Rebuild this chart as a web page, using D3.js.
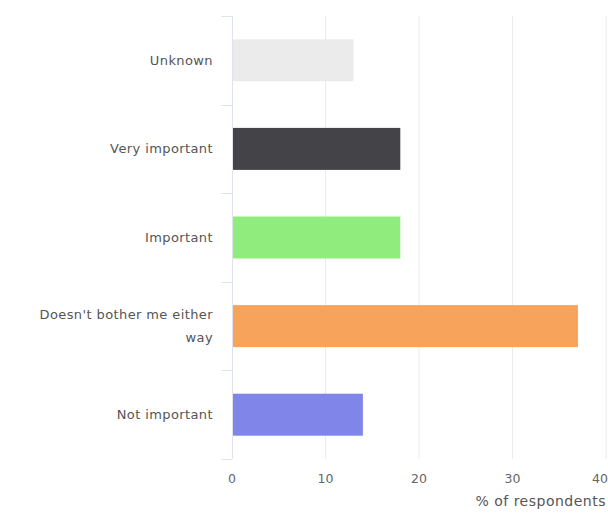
<!DOCTYPE html>
<html><head><meta charset="utf-8">
<script src="https://cdn.jsdelivr.net/npm/d3@7"></script>
<style>body{margin:0;background:#fff}svg{display:block}</style>
</head><body>
<script>
const categories = ["Unknown", "Very important", "Important", "Doesn't bother me either way", "Not important"];
const labelLines = [["Unknown"], ["Very important"], ["Important"], ["Doesn't bother me either", "way"], ["Not important"]];
const values = [13, 18, 18, 37, 14];
const colors = ["#ebebeb", "#434348", "#90ed7d", "#f7a35c", "#8085e9"];
const xTicks = [0, 10, 20, 30, 40];
const xTitle = "% of respondents";

const W = 608, H = 513;
const svg = d3.select("body").append("svg").attr("width", W).attr("height", H);
const font = "'DejaVu Sans', sans-serif";

const x = d3.scaleLinear().domain([0, 40]).range([232, 606]);
const y = d3.scaleBand().domain(categories).range([16, 459]).paddingInner(0).paddingOuter(0);

// gridlines
svg.append("g").selectAll("line").data(xTicks.slice(1)).join("line")
  .attr("x1", d => x(d)).attr("x2", d => x(d))
  .attr("y1", 16).attr("y2", 459)
  .attr("stroke", "#ebebeb").attr("stroke-width", 1);

// y axis line and ticks
svg.append("line").attr("x1", 232.5).attr("x2", 232.5).attr("y1", 16).attr("y2", 459)
  .attr("stroke", "#dfe3ee");
const bounds = categories.map(c => y(c)).concat([459]);
svg.append("g").selectAll("line").data(bounds).join("line")
  .attr("x1", 221).attr("x2", 232)
  .attr("y1", d => Math.round(d) + 0.5).attr("y2", d => Math.round(d) + 0.5)
  .attr("stroke", "#dfe3ee");

// bars
const barH = 42;
svg.append("g").selectAll("rect").data(values).join("rect")
  .attr("x", x(0) + 1)
  .attr("y", (d, i) => y(categories[i]) + y.bandwidth() / 2 - barH / 2)
  .attr("width", d => x(d) - x(0) - 1)
  .attr("height", barH)
  .attr("fill", (d, i) => colors[i]);

// category labels
const lab = svg.append("g");
labelLines.forEach((lines, i) => {
  const cy = y(categories[i]) + y.bandwidth() / 2;
  const lh = 23;
  const t = lab.append("text").attr("text-anchor", "end")
    .attr("font-family", font).attr("font-size", 13).attr("letter-spacing", 0.4).attr("fill", "#555");
  lines.forEach((ln, j) => {
    t.append("tspan").attr("x", 213)
      .attr("y", cy + 4.5 + (j - (lines.length - 1) / 2) * lh).text(ln);
  });
});

// x tick labels
svg.append("g").selectAll("text").data(xTicks).join("text")
  .attr("x", d => x(d))
  .attr("y", 483)
  .attr("text-anchor", (d, i) => i === xTicks.length - 1 ? "end" : "middle")
  .attr("dx", (d, i) => i === xTicks.length - 1 ? 2 : 0)
  .attr("font-family", font).attr("font-size", 12.5).attr("fill", "#666")
  .text(d => d);

svg.append("text").attr("x", 606).attr("y", 506).attr("text-anchor", "end")
  .attr("font-family", font).attr("font-size", 14).attr("letter-spacing", 0.5).attr("fill", "#555")
  .text(xTitle);
</script>
</body></html>
